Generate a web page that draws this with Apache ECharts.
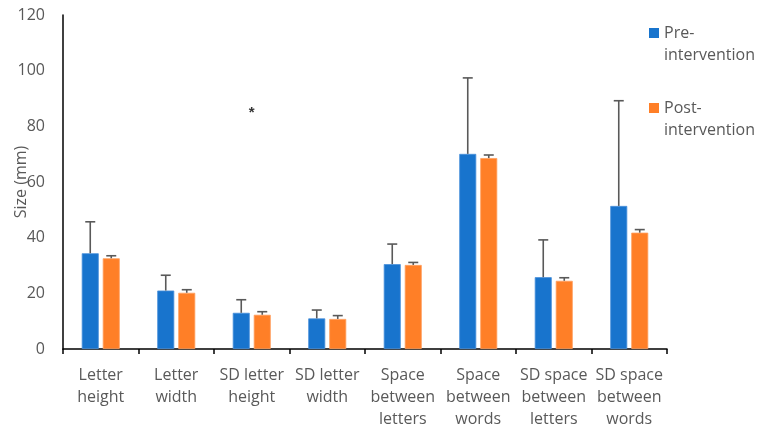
<!DOCTYPE html>
<html><head><meta charset="utf-8">
<script src="https://cdn.jsdelivr.net/npm/echarts@6/dist/echarts.min.js"></script>
<style>html,body{margin:0;padding:0;background:#fff}#c{width:762px;height:428px}</style>
</head><body><div id="c"></div>
<script>
var categories = ['Letter\nheight','Letter\nwidth','SD letter\nheight','SD letter\nwidth','Space\nbetween\nletters','Space\nbetween\nwords','SD space\nbetween\nletters','SD space\nbetween\nwords'];
var preValues = [34.4, 21.0, 13.0, 11.0, 30.5, 70.1, 25.8, 51.4];
var preSD = [11.3, 5.5, 4.7, 3.0, 7.2, 27.3, 13.4, 37.8];
var postValues = [32.6, 20.2, 12.3, 10.8, 30.2, 68.6, 24.5, 41.8];
var postSD = [0.9, 1.1, 1.1, 1.2, 0.9, 1.1, 1.1, 1.1];
var yTicks = {min: 0, max: 120, interval: 20};
var seriesNames = ['Pre-intervention', 'Post-intervention'];
var legendLabels = ['Pre-\nintervention', 'Post-\nintervention'];
var annotations = [['SD letter\nheight', 85, '*']];

var FONT = 'Open Sans';
var GREY = '#595959';
var BW = 17, GAP = 4;
// square icon sitting beside the first of two text lines
var ICON = 'path://M0,0h0.01v0.01h-0.01Z M0,6h10v10h-10Z M0,44h0.01v0.01h-0.01Z';

function errData(vals, sds) {
  return vals.map(function (v, i) { return [i, v, v + sds[i]]; });
}
function errSeries(name, vals, sds, offset) {
  return {
    type: 'custom', name: name + ' SD', silent: true, z: 5,
    data: errData(vals, sds),
    renderItem: function (params, api) {
      var b = api.coord([api.value(0), api.value(1)]);
      var t = api.coord([api.value(0), api.value(2)]);
      var x = b[0] + offset;
      var st = {stroke: GREY, lineWidth: 1.6, fill: null};
      return {type: 'group', children: [
        {type: 'line', shape: {x1: x, y1: b[1], x2: x, y2: t[1]}, style: st},
        {type: 'line', shape: {x1: x - 5, y1: t[1], x2: x + 5, y2: t[1]}, style: st}
      ]};
    }
  };
}
function legendFor(i, top) {
  return {data: [{name: seriesNames[i], icon: ICON}], orient: 'vertical', left: 649, top: top,
    padding: 0, itemWidth: 10, itemHeight: 44, itemGap: 0, symbolKeepAspect: false,
    itemStyle: {borderWidth: 0},
    textStyle: {fontFamily: FONT, fontSize: 16, color: GREY, lineHeight: 22},
    formatter: function () { return legendLabels[i]; }};
}

var chart = echarts.init(document.getElementById('c'));
var off = (BW + GAP) / 2;
chart.setOption({
  animation: false,
  textStyle: {fontFamily: FONT},
  grid: {left: 63, right: 95, top: 15, bottom: 79, containLabel: false, outerBoundsMode: 'none'},
  legend: [legendFor(0, 22), legendFor(1, 97)],
  xAxis: {
    type: 'category', data: categories,
    axisLine: {lineStyle: {color: '#000', width: 1.5}},
    axisTick: {show: true, length: 5, lineStyle: {color: '#000', width: 1.5}},
    axisLabel: {color: GREY, fontFamily: FONT, fontSize: 16, lineHeight: 22, margin: 15, interval: 0}
  },
  yAxis: {
    type: 'value', min: yTicks.min, max: yTicks.max, interval: yTicks.interval,
    name: 'Size (mm)', nameLocation: 'middle', nameGap: 34, nameMoveOverlap: false,
    nameTextStyle: {color: GREY, fontFamily: FONT, fontSize: 16},
    axisLine: {show: true, lineStyle: {color: '#000', width: 1.5}},
    axisTick: {show: false},
    splitLine: {show: false},
    axisLabel: {color: GREY, fontFamily: FONT, fontSize: 16, margin: 18}
  },
  series: [
    {type: 'bar', name: seriesNames[0], data: preValues, barWidth: BW, barGap: (GAP / BW * 100) + '%', itemStyle: {color: '#1874CD', borderColor: '#4A90DA', borderWidth: 0.8}},
    {type: 'bar', name: seriesNames[1], data: postValues, barWidth: BW, itemStyle: {color: '#FF7F27', borderColor: '#FFA060', borderWidth: 0.8}},
    errSeries(seriesNames[0], preValues, preSD, -off),
    errSeries(seriesNames[1], postValues, postSD, off),
    {type: 'scatter', name: 'note', symbolSize: 0, silent: true,
     data: annotations.map(function (a) { return [a[0], a[1], a[2]]; }),
     label: {show: true, position: 'inside', formatter: function (p) { return p.value[2]; }, color: '#000', fontSize: 15, fontWeight: 'bold', fontFamily: 'Liberation Sans'}}
  ]
});
</script></body></html>
